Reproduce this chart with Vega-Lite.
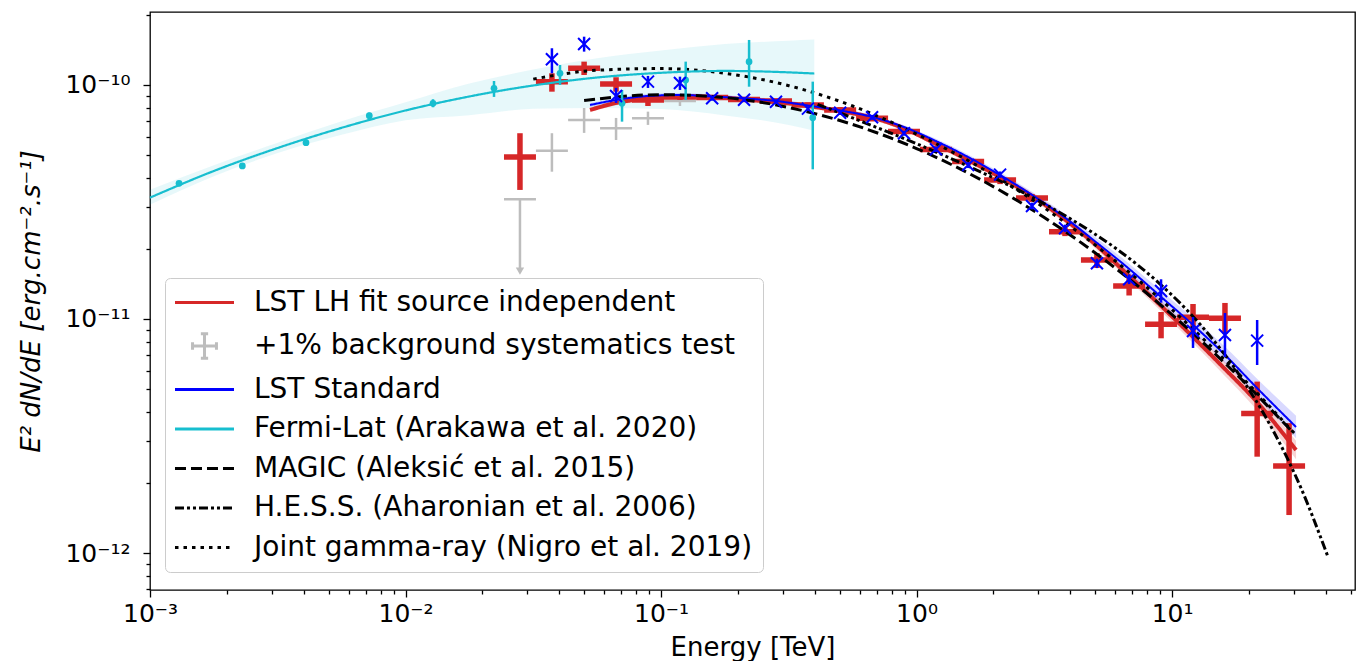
{
  "$schema": "https://vega.github.io/schema/vega-lite/v6.json",
  "width": 1205,
  "height": 578,
  "autosize": {"type": "none"},
  "padding": {"left": 150, "top": 12, "right": 8, "bottom": 71},
  "background": "white",
  "config": {
    "view": {"stroke": "black", "strokeWidth": 1.3},
    "font": "DejaVu Sans",
    "axis": {
      "labelFont": "DejaVu Sans", "labelFontSize": 25, "labelColor": "black",
      "titleFont": "DejaVu Sans", "titleFontSize": 26, "titleColor": "black", "titleFontWeight": "normal",
      "tickColor": "black", "tickWidth": 1.3, "domain": false, "grid": false,
      "labelOverlap": false, "labelFlush": false, "labelBound": false
    },
    "legend": {
      "labelFont": "DejaVu Sans", "labelFontSize": 28, "labelColor": "black", "labelLimit": 1000
    }
  },
  "datasets": {
    "fermiLine": [
      {"E": 0.001, "F": 3.30e-11, "Fup": 3.569e-11, "Flo": 3.080e-11, "series": "Fermi-Lat (Arakawa et al. 2020)"},
      {"E": 0.001778, "F": 4.29e-11, "Fup": 4.544e-11, "Flo": 4.078e-11, "series": "Fermi-Lat (Arakawa et al. 2020)"},
      {"E": 0.003162, "F": 5.38e-11, "Fup": 5.660e-11, "Flo": 5.114e-11, "series": "Fermi-Lat (Arakawa et al. 2020)"},
      {"E": 0.005623, "F": 6.56e-11, "Fup": 6.997e-11, "Flo": 6.122e-11, "series": "Fermi-Lat (Arakawa et al. 2020)"},
      {"E": 0.01, "F": 7.78e-11, "Fup": 8.433e-11, "Flo": 7.062e-11, "series": "Fermi-Lat (Arakawa et al. 2020)"},
      {"E": 0.01778, "F": 8.93e-11, "Fup": 1.0136e-10, "Flo": 7.427e-11, "series": "Fermi-Lat (Arakawa et al. 2020)"},
      {"E": 0.03162, "F": 9.95e-11, "Fup": 1.1637e-10, "Flo": 7.904e-11, "series": "Fermi-Lat (Arakawa et al. 2020)"},
      {"E": 0.05623, "F": 1.076e-10, "Fup": 1.2996e-10, "Flo": 7.976e-11, "series": "Fermi-Lat (Arakawa et al. 2020)"},
      {"E": 0.1, "F": 1.127e-10, "Fup": 1.4026e-10, "Flo": 7.887e-11, "series": "Fermi-Lat (Arakawa et al. 2020)"},
      {"E": 0.1778, "F": 1.148e-10, "Fup": 1.4961e-10, "Flo": 7.412e-11, "series": "Fermi-Lat (Arakawa et al. 2020)"},
      {"E": 0.3162, "F": 1.132e-10, "Fup": 1.5447e-10, "Flo": 6.743e-11, "series": "Fermi-Lat (Arakawa et al. 2020)"},
      {"E": 0.398, "F": 1.119e-10, "Fup": 1.5626e-10, "Flo": 6.366e-11, "series": "Fermi-Lat (Arakawa et al. 2020)"}
    ],
    "fermiPts": [
      {"E": 0.001299, "F": 3.80e-11, "Flo": 3.72e-11, "Fhi": 3.88e-11},
      {"E": 0.002298, "F": 4.51e-11, "Flo": 4.43e-11, "Fhi": 4.60e-11},
      {"E": 0.004079, "F": 5.67e-11, "Flo": 5.50e-11, "Fhi": 5.84e-11},
      {"E": 0.007215, "F": 7.39e-11, "Flo": 7.17e-11, "Fhi": 7.62e-11},
      {"E": 0.01281, "F": 8.35e-11, "Flo": 8.03e-11, "Fhi": 8.69e-11},
      {"E": 0.02220, "F": 9.68e-11, "Flo": 8.89e-11, "Fhi": 1.040e-10},
      {"E": 0.04024, "F": 1.122e-10, "Flo": 1.0e-10, "Fhi": 1.217e-10},
      {"E": 0.07037, "F": 8.35e-11, "Flo": 6.97e-11, "Fhi": 9.52e-11},
      {"E": 0.1249, "F": 1.050e-10, "Flo": 8.63e-11, "Fhi": 1.258e-10},
      {"E": 0.2211, "F": 1.258e-10, "Flo": 9.83e-11, "Fhi": 1.557e-10},
      {"E": 0.3925, "F": 7.25e-11, "Flo": 4.36e-11, "Fhi": 1.033e-10}
    ],
    "redLine": [
      {"E": 0.05274, "F": 7.82e-11, "Fup": 8.00e-11, "Flo": 7.64e-11, "series": "LST LH fit source independent"},
      {"E": 0.06668, "F": 8.38e-11, "Fup": 8.58e-11, "Flo": 8.19e-11, "series": "LST LH fit source independent"},
      {"E": 0.0889, "F": 8.76e-11, "Fup": 8.96e-11, "Flo": 8.56e-11, "series": "LST LH fit source independent"},
      {"E": 0.1186, "F": 8.93e-11, "Fup": 9.14e-11, "Flo": 8.73e-11, "series": "LST LH fit source independent"},
      {"E": 0.1585, "F": 8.89e-11, "Fup": 9.10e-11, "Flo": 8.69e-11, "series": "LST LH fit source independent"},
      {"E": 0.2113, "F": 8.67e-11, "Fup": 8.87e-11, "Flo": 8.47e-11, "series": "LST LH fit source independent"},
      {"E": 0.2818, "F": 8.46e-11, "Fup": 8.66e-11, "Flo": 8.27e-11, "series": "LST LH fit source independent"},
      {"E": 0.3758, "F": 8.13e-11, "Fup": 8.32e-11, "Flo": 7.94e-11, "series": "LST LH fit source independent"},
      {"E": 0.5023, "F": 7.74e-11, "Fup": 7.92e-11, "Flo": 7.56e-11, "series": "LST LH fit source independent"},
      {"E": 0.6699, "F": 7.26e-11, "Fup": 7.43e-11, "Flo": 7.09e-11, "series": "LST LH fit source independent"},
      {"E": 0.893, "F": 6.52e-11, "Fup": 6.67e-11, "Flo": 6.37e-11, "series": "LST LH fit source independent"},
      {"E": 1.191, "F": 5.60e-11, "Fup": 5.74e-11, "Flo": 5.46e-11, "series": "LST LH fit source independent"},
      {"E": 1.592, "F": 4.78e-11, "Fup": 4.91e-11, "Flo": 4.65e-11, "series": "LST LH fit source independent"},
      {"E": 2.123, "F": 4.04e-11, "Fup": 4.16e-11, "Flo": 3.92e-11, "series": "LST LH fit source independent"},
      {"E": 2.831, "F": 3.35e-11, "Fup": 3.46e-11, "Flo": 3.24e-11, "series": "LST LH fit source independent"},
      {"E": 3.778, "F": 2.68e-11, "Fup": 2.774e-11, "Flo": 2.589e-11, "series": "LST LH fit source independent"},
      {"E": 5.041, "F": 2.07e-11, "Fup": 2.153e-11, "Flo": 1.991e-11, "series": "LST LH fit source independent"},
      {"E": 6.727, "F": 1.542e-11, "Fup": 1.611e-11, "Flo": 1.476e-11, "series": "LST LH fit source independent"},
      {"E": 8.974, "F": 1.148e-11, "Fup": 1.208e-11, "Flo": 1.091e-11, "series": "LST LH fit source independent"},
      {"E": 11.97, "F": 8.46e-12, "Fup": 8.98e-12, "Flo": 7.97e-12, "series": "LST LH fit source independent"},
      {"E": 15.97, "F": 6.17e-12, "Fup": 6.61e-12, "Flo": 5.76e-12, "series": "LST LH fit source independent"},
      {"E": 21.32, "F": 4.46e-12, "Fup": 4.82e-12, "Flo": 4.12e-12, "series": "LST LH fit source independent"},
      {"E": 30.57, "F": 2.755e-12, "Fup": 3.021e-12, "Flo": 2.513e-12, "series": "LST LH fit source independent"}
    ],
    "blueLine": [
      {"E": 0.05274, "F": 8.21e-11, "Fup": 8.36e-11, "Flo": 8.06e-11, "series": "LST Standard"},
      {"E": 0.06668, "F": 8.63e-11, "Fup": 8.79e-11, "Flo": 8.47e-11, "series": "LST Standard"},
      {"E": 0.0889, "F": 8.97e-11, "Fup": 9.14e-11, "Flo": 8.81e-11, "series": "LST Standard"},
      {"E": 0.1186, "F": 9.06e-11, "Fup": 9.23e-11, "Flo": 8.89e-11, "series": "LST Standard"},
      {"E": 0.1585, "F": 8.93e-11, "Fup": 9.10e-11, "Flo": 8.77e-11, "series": "LST Standard"},
      {"E": 0.2113, "F": 8.76e-11, "Fup": 8.92e-11, "Flo": 8.60e-11, "series": "LST Standard"},
      {"E": 0.2818, "F": 8.54e-11, "Fup": 8.70e-11, "Flo": 8.38e-11, "series": "LST Standard"},
      {"E": 0.3758, "F": 8.17e-11, "Fup": 8.32e-11, "Flo": 8.02e-11, "series": "LST Standard"},
      {"E": 0.5023, "F": 7.78e-11, "Fup": 7.92e-11, "Flo": 7.64e-11, "series": "LST Standard"},
      {"E": 0.6699, "F": 7.30e-11, "Fup": 7.44e-11, "Flo": 7.17e-11, "series": "LST Standard"},
      {"E": 0.893, "F": 6.61e-11, "Fup": 6.73e-11, "Flo": 6.49e-11, "series": "LST Standard"},
      {"E": 1.191, "F": 5.76e-11, "Fup": 5.89e-11, "Flo": 5.63e-11, "series": "LST Standard"},
      {"E": 1.592, "F": 4.92e-11, "Fup": 5.05e-11, "Flo": 4.80e-11, "series": "LST Standard"},
      {"E": 2.123, "F": 4.12e-11, "Fup": 4.24e-11, "Flo": 4.01e-11, "series": "LST Standard"},
      {"E": 2.831, "F": 3.39e-11, "Fup": 3.50e-11, "Flo": 3.28e-11, "series": "LST Standard"},
      {"E": 3.778, "F": 2.73e-11, "Fup": 2.832e-11, "Flo": 2.631e-11, "series": "LST Standard"},
      {"E": 5.041, "F": 2.13e-11, "Fup": 2.225e-11, "Flo": 2.039e-11, "series": "LST Standard"},
      {"E": 6.727, "F": 1.652e-11, "Fup": 1.738e-11, "Flo": 1.570e-11, "series": "LST Standard"},
      {"E": 8.974, "F": 1.254e-11, "Fup": 1.331e-11, "Flo": 1.181e-11, "series": "LST Standard"},
      {"E": 11.97, "F": 9.52e-12, "Fup": 1.020e-11, "Flo": 8.88e-12, "series": "LST Standard"},
      {"E": 15.97, "F": 7.09e-12, "Fup": 7.68e-12, "Flo": 6.54e-12, "series": "LST Standard"},
      {"E": 21.32, "F": 5.12e-12, "Fup": 5.61e-12, "Flo": 4.67e-12, "series": "LST Standard"},
      {"E": 30.57, "F": 3.455e-12, "Fup": 3.859e-12, "Flo": 3.093e-12, "series": "LST Standard"}
    ],
    "magic": [
      {"E": 0.05, "F": 8.59e-11, "series": "MAGIC (Aleksić et al. 2015)"},
      {"E": 0.1, "F": 9.09e-11, "series": "MAGIC (Aleksić et al. 2015)"},
      {"E": 0.1778, "F": 8.83e-11, "series": "MAGIC (Aleksić et al. 2015)"},
      {"E": 0.3162, "F": 8.01e-11, "series": "MAGIC (Aleksić et al. 2015)"},
      {"E": 0.5623, "F": 6.78e-11, "series": "MAGIC (Aleksić et al. 2015)"},
      {"E": 1.0, "F": 5.35e-11, "series": "MAGIC (Aleksić et al. 2015)"},
      {"E": 1.778, "F": 3.945e-11, "series": "MAGIC (Aleksić et al. 2015)"},
      {"E": 3.162, "F": 2.714e-11, "series": "MAGIC (Aleksić et al. 2015)"},
      {"E": 5.623, "F": 1.742e-11, "series": "MAGIC (Aleksić et al. 2015)"},
      {"E": 10.0, "F": 1.043e-11, "series": "MAGIC (Aleksić et al. 2015)"},
      {"E": 17.78, "F": 5.83e-12, "series": "MAGIC (Aleksić et al. 2015)"},
      {"E": 30.0, "F": 3.24e-12, "series": "MAGIC (Aleksić et al. 2015)"}
    ],
    "hess": [
      {"E": 0.41, "F": 8.26e-11, "series": "H.E.S.S. (Aharonian et al. 2006)"},
      {"E": 0.6, "F": 7.03e-11, "series": "H.E.S.S. (Aharonian et al. 2006)"},
      {"E": 1.0, "F": 5.61e-11, "series": "H.E.S.S. (Aharonian et al. 2006)"},
      {"E": 1.5, "F": 4.63e-11, "series": "H.E.S.S. (Aharonian et al. 2006)"},
      {"E": 2.5, "F": 3.56e-11, "series": "H.E.S.S. (Aharonian et al. 2006)"},
      {"E": 4.0, "F": 2.68e-11, "series": "H.E.S.S. (Aharonian et al. 2006)"},
      {"E": 6.0, "F": 2.01e-11, "series": "H.E.S.S. (Aharonian et al. 2006)"},
      {"E": 9.0, "F": 1.406e-11, "series": "H.E.S.S. (Aharonian et al. 2006)"},
      {"E": 13.0, "F": 9.37e-12, "series": "H.E.S.S. (Aharonian et al. 2006)"},
      {"E": 18.0, "F": 5.94e-12, "series": "H.E.S.S. (Aharonian et al. 2006)"},
      {"E": 25.0, "F": 3.30e-12, "series": "H.E.S.S. (Aharonian et al. 2006)"},
      {"E": 32.0, "F": 1.89e-12, "series": "H.E.S.S. (Aharonian et al. 2006)"},
      {"E": 40.8, "F": 9.6e-13, "series": "H.E.S.S. (Aharonian et al. 2006)"}
    ],
    "joint": [
      {"E": 0.03162, "F": 1.059e-10, "series": "Joint gamma-ray (Nigro et al. 2019)"},
      {"E": 0.05623, "F": 1.156e-10, "series": "Joint gamma-ray (Nigro et al. 2019)"},
      {"E": 0.1, "F": 1.175e-10, "series": "Joint gamma-ray (Nigro et al. 2019)"},
      {"E": 0.1778, "F": 1.122e-10, "series": "Joint gamma-ray (Nigro et al. 2019)"},
      {"E": 0.3162, "F": 9.93e-11, "series": "Joint gamma-ray (Nigro et al. 2019)"},
      {"E": 0.5623, "F": 8.13e-11, "series": "Joint gamma-ray (Nigro et al. 2019)"},
      {"E": 1.0, "F": 6.17e-11, "series": "Joint gamma-ray (Nigro et al. 2019)"},
      {"E": 1.778, "F": 4.44e-11, "series": "Joint gamma-ray (Nigro et al. 2019)"},
      {"E": 3.162, "F": 2.985e-11, "series": "Joint gamma-ray (Nigro et al. 2019)"},
      {"E": 5.623, "F": 1.873e-11, "series": "Joint gamma-ray (Nigro et al. 2019)"},
      {"E": 10.0, "F": 1.096e-11, "series": "Joint gamma-ray (Nigro et al. 2019)"},
      {"E": 17.78, "F": 5.99e-12, "series": "Joint gamma-ray (Nigro et al. 2019)"},
      {"E": 30.0, "F": 3.26e-12, "series": "Joint gamma-ray (Nigro et al. 2019)"}
    ],
    "redPts": [
      {"E": 0.02805, "Elo": 0.02429, "Ehi": 0.03240, "F": 4.92e-11, "Flo": 3.56e-11, "Fhi": 6.22e-11},
      {"E": 0.03741, "Elo": 0.03239, "Ehi": 0.04321, "F": 1.033e-10, "Flo": 9.36e-11, "Fhi": 1.122e-10},
      {"E": 0.0500, "Elo": 0.04329, "Ehi": 0.05775, "F": 1.179e-10, "Flo": 1.103e-10, "Fhi": 1.258e-10},
      {"E": 0.06668, "Elo": 0.05773, "Ehi": 0.07702, "F": 1.010e-10, "Flo": 9.36e-11, "Fhi": 1.079e-10},
      {"E": 0.0889, "Elo": 0.07697, "Ehi": 0.1027, "F": 8.63e-11, "Flo": 8.13e-11, "Fhi": 9.06e-11},
      {"E": 0.1186, "Elo": 0.1027, "Ehi": 0.1370, "F": 8.89e-11, "Flo": 8.63e-11, "Fhi": 9.15e-11},
      {"E": 0.1585, "Elo": 0.1372, "Ehi": 0.1831, "F": 8.84e-11, "Flo": 8.63e-11, "Fhi": 9.06e-11},
      {"E": 0.2113, "Elo": 0.1829, "Ehi": 0.2441, "F": 8.67e-11, "Flo": 8.46e-11, "Fhi": 8.89e-11},
      {"E": 0.2818, "Elo": 0.2440, "Ehi": 0.3255, "F": 8.54e-11, "Flo": 8.34e-11, "Fhi": 8.76e-11},
      {"E": 0.3758, "Elo": 0.3254, "Ehi": 0.4340, "F": 8.21e-11, "Flo": 8.01e-11, "Fhi": 8.42e-11},
      {"E": 0.5023, "Elo": 0.4349, "Ehi": 0.5802, "F": 7.82e-11, "Flo": 7.59e-11, "Fhi": 8.05e-11},
      {"E": 0.6699, "Elo": 0.5800, "Ehi": 0.7737, "F": 7.21e-11, "Flo": 6.98e-11, "Fhi": 7.44e-11},
      {"E": 0.893, "Elo": 0.7732, "Ehi": 1.0314, "F": 6.32e-11, "Flo": 6.11e-11, "Fhi": 6.55e-11},
      {"E": 1.191, "Elo": 1.0312, "Ehi": 1.3756, "F": 5.30e-11, "Flo": 5.12e-11, "Fhi": 5.48e-11},
      {"E": 1.592, "Elo": 1.3784, "Ehi": 1.8388, "F": 4.71e-11, "Flo": 4.55e-11, "Fhi": 4.88e-11},
      {"E": 2.123, "Elo": 1.8381, "Ehi": 2.4521, "F": 3.93e-11, "Flo": 3.77e-11, "Fhi": 4.08e-11},
      {"E": 2.831, "Elo": 2.4511, "Ehi": 3.2698, "F": 3.29e-11, "Flo": 3.16e-11, "Fhi": 3.42e-11},
      {"E": 3.811, "Elo": 3.2996, "Ehi": 4.4017, "F": 2.36e-11, "Flo": 2.26e-11, "Fhi": 2.47e-11},
      {"E": 5.082, "Elo": 4.4000, "Ehi": 5.8697, "F": 1.787e-11, "Flo": 1.652e-11, "Fhi": 1.914e-11},
      {"E": 6.792, "Elo": 5.8805, "Ehi": 7.8448, "F": 1.384e-11, "Flo": 1.26e-11, "Fhi": 1.512e-11},
      {"E": 9.057, "Elo": 7.8416, "Ehi": 10.461, "F": 9.49e-12, "Flo": 8.27e-12, "Fhi": 1.071e-11},
      {"E": 12.08, "Elo": 10.459, "Ehi": 13.952, "F": 1.017e-11, "Flo": 8.71e-12, "Fhi": 1.159e-11},
      {"E": 16.11, "Elo": 13.948, "Ehi": 18.607, "F": 1.007e-11, "Flo": 8.63e-12, "Fhi": 1.171e-11},
      {"E": 21.53, "Elo": 18.641, "Ehi": 24.867, "F": 3.95e-12, "Flo": 2.58e-12, "Fhi": 5.40e-12},
      {"E": 28.71, "Elo": 24.857, "Ehi": 33.160, "F": 2.353e-12, "Flo": 1.453e-12, "Fhi": 3.59e-12}
    ],
    "grayPts": [
      {"E": 0.03741, "Elo": 0.03239, "Ehi": 0.04321, "F": 5.24e-11, "Flo": 4.26e-11, "Fhi": 6.22e-11},
      {"E": 0.0500, "Elo": 0.04329, "Ehi": 0.05775, "F": 7.09e-11, "Flo": 6.24e-11, "Fhi": 7.97e-11},
      {"E": 0.06668, "Elo": 0.05773, "Ehi": 0.07702, "F": 6.53e-11, "Flo": 5.82e-11, "Fhi": 7.23e-11},
      {"E": 0.0889, "Elo": 0.07697, "Ehi": 0.1027, "F": 7.21e-11, "Flo": 6.75e-11, "Fhi": 7.69e-11},
      {"E": 0.1186, "Elo": 0.1027, "Ehi": 0.1370, "F": 8.54e-11, "Flo": 8.13e-11, "Fhi": 8.97e-11}
    ],
    "grayUL": [
      {"E": 0.02805, "Elo": 0.02429, "Ehi": 0.03240, "F": 3.25e-11, "Fend": 1.60e-11}
    ],
    "bluePts": [
      {"E": 0.03741, "F": 1.288e-10, "Flo": 1.122e-10, "Fhi": 1.435e-10},
      {"E": 0.0500, "F": 1.497e-10, "Flo": 1.388e-10, "Fhi": 1.608e-10},
      {"E": 0.06668, "F": 8.97e-11, "Flo": 8.38e-11, "Fhi": 9.71e-11},
      {"E": 0.0889, "F": 1.033e-10, "Flo": 9.71e-11, "Fhi": 1.093e-10},
      {"E": 0.1186, "F": 1.020e-10, "Flo": 9.52e-11, "Fhi": 1.085e-10},
      {"E": 0.1585, "F": 8.77e-11, "Flo": 8.57e-11, "Fhi": 9.0e-11},
      {"E": 0.2113, "F": 8.65e-11, "Flo": 8.46e-11, "Fhi": 8.85e-11},
      {"E": 0.2818, "F": 8.48e-11, "Flo": 8.30e-11, "Fhi": 8.68e-11},
      {"E": 0.3758, "F": 7.92e-11, "Flo": 7.75e-11, "Fhi": 8.1e-11},
      {"E": 0.5023, "F": 7.61e-11, "Flo": 7.45e-11, "Fhi": 7.8e-11},
      {"E": 0.6699, "F": 7.28e-11, "Flo": 7.1e-11, "Fhi": 7.45e-11},
      {"E": 0.893, "F": 6.22e-11, "Flo": 6.07e-11, "Fhi": 6.37e-11},
      {"E": 1.191, "F": 5.31e-11, "Flo": 5.17e-11, "Fhi": 5.45e-11},
      {"E": 1.592, "F": 4.55e-11, "Flo": 4.42e-11, "Fhi": 4.68e-11},
      {"E": 2.123, "F": 4.14e-11, "Flo": 4.01e-11, "Fhi": 4.27e-11},
      {"E": 2.831, "F": 3.04e-11, "Flo": 2.94e-11, "Fhi": 3.14e-11},
      {"E": 3.811, "F": 2.44e-11, "Flo": 2.35e-11, "Fhi": 2.53e-11},
      {"E": 5.082, "F": 1.73e-11, "Flo": 1.65e-11, "Fhi": 1.81e-11},
      {"E": 6.792, "F": 1.478e-11, "Flo": 1.41e-11, "Fhi": 1.55e-11},
      {"E": 9.057, "F": 1.317e-11, "Flo": 1.174e-11, "Fhi": 1.478e-11},
      {"E": 12.08, "F": 8.89e-12, "Flo": 7.52e-12, "Fhi": 1.020e-11},
      {"E": 16.11, "F": 8.54e-12, "Flo": 6.88e-12, "Fhi": 1.061e-11},
      {"E": 21.53, "F": 8.08e-12, "Flo": 6.36e-12, "Fhi": 9.90e-12}
    ]
  },
  "encoding": {
    "x": {
      "field": "E", "type": "quantitative",
      "scale": {"type": "log", "domain": [0.001, 52], "nice": false},
      "axis": {
        "title": "Energy [TeV]",
        "values": [0.001, 0.002, 0.003, 0.004, 0.005, 0.006, 0.007, 0.008, 0.009, 0.01, 0.02, 0.03, 0.04, 0.05, 0.06, 0.07, 0.08, 0.09, 0.1, 0.2, 0.3, 0.4, 0.5, 0.6, 0.7, 0.8, 0.9, 1, 2, 3, 4, 5, 6, 7, 8, 9, 10, 20, 30, 40, 50],
        "labelExpr": "abs(log(datum.value)/LN10 - round(log(datum.value)/LN10)) < 0.001 ? ['10⁻³','10⁻²','10⁻¹','10⁰','10¹'][round(log(datum.value)/LN10)+3] : ''",
        "tickSize": {"condition": {"test": "abs(log(datum.value)/LN10 - round(log(datum.value)/LN10)) < 0.001", "value": 7}, "value": 4},
        "labelPadding": 4,
        "titlePadding": 8
      }
    },
    "y": {
      "field": "F", "type": "quantitative",
      "scale": {"type": "log", "domain": [6.95e-13, 2.05e-10], "nice": false},
      "axis": {
        "title": "E² dN/dE [erg.cm⁻².s⁻¹]",
        "titleFontStyle": "italic",
        "values": [7e-13, 8e-13, 9e-13, 1e-12, 2e-12, 3e-12, 4e-12, 5e-12, 6e-12, 7e-12, 8e-12, 9e-12, 1e-11, 2e-11, 3e-11, 4e-11, 5e-11, 6e-11, 7e-11, 8e-11, 9e-11, 1e-10, 2e-10],
        "labelExpr": "abs(log(datum.value)/LN10 - round(log(datum.value)/LN10)) < 0.001 ? ['10⁻¹²','10⁻¹¹','10⁻¹⁰'][round(log(datum.value)/LN10)+12] : ''",
        "tickSize": {"condition": {"test": "abs(log(datum.value)/LN10 - round(log(datum.value)/LN10)) < 0.001", "value": 7}, "value": 4},
        "labelPadding": 13,
        "titlePadding": 20
      }
    }
  },
  "layer": [
    {
      "data": {"name": "fermiLine"},
      "mark": {"type": "area", "color": "#17becf", "opacity": 0.1, "interpolate": "monotone"},
      "encoding": {"y": {"field": "Fup", "type": "quantitative", "scale": {"type": "log", "domain": [6.95e-13, 2.05e-10], "nice": false}}, "y2": {"field": "Flo"}}
    },
    {
      "data": {"name": "redLine"},
      "mark": {"type": "area", "color": "#d62728", "opacity": 0.2, "interpolate": "monotone"},
      "encoding": {"y": {"field": "Fup", "type": "quantitative", "scale": {"type": "log", "domain": [6.95e-13, 2.05e-10], "nice": false}}, "y2": {"field": "Flo"}}
    },
    {
      "data": {"name": "blueLine"},
      "mark": {"type": "area", "color": "#0000ff", "opacity": 0.15, "interpolate": "monotone"},
      "encoding": {"y": {"field": "Fup", "type": "quantitative", "scale": {"type": "log", "domain": [6.95e-13, 2.05e-10], "nice": false}}, "y2": {"field": "Flo"}}
    },
    {
      "data": {"name": "grayPts"},
      "mark": {"type": "rule", "color": "#bdbdbd", "strokeWidth": 2.5},
      "encoding": {"x": {"field": "Elo", "type": "quantitative", "scale": {"type": "log", "domain": [0.001, 52], "nice": false}}, "x2": {"field": "Ehi"}}
    },
    {
      "data": {"name": "grayPts"},
      "mark": {"type": "rule", "color": "#bdbdbd", "strokeWidth": 2.5},
      "encoding": {"y": {"field": "Flo", "type": "quantitative", "scale": {"type": "log", "domain": [6.95e-13, 2.05e-10], "nice": false}}, "y2": {"field": "Fhi"}}
    },
    {
      "data": {"name": "grayUL"},
      "mark": {"type": "rule", "color": "#bdbdbd", "strokeWidth": 2.5},
      "encoding": {"x": {"field": "Elo", "type": "quantitative", "scale": {"type": "log", "domain": [0.001, 52], "nice": false}}, "x2": {"field": "Ehi"}}
    },
    {
      "data": {"name": "grayUL"},
      "mark": {"type": "rule", "color": "#bdbdbd", "strokeWidth": 2.5},
      "encoding": {"y2": {"field": "Fend"}}
    },
    {
      "data": {"name": "grayUL"},
      "mark": {"type": "point", "shape": "triangle-down", "filled": true, "color": "#bdbdbd", "opacity": 1, "size": 70},
      "encoding": {"y": {"field": "Fend", "type": "quantitative", "scale": {"type": "log", "domain": [6.95e-13, 2.05e-10], "nice": false}}}
    },
    {
      "data": {"name": "redPts"},
      "mark": {"type": "rule", "color": "#d62728", "strokeWidth": 5.5},
      "encoding": {"x": {"field": "Elo", "type": "quantitative", "scale": {"type": "log", "domain": [0.001, 52], "nice": false}}, "x2": {"field": "Ehi"}}
    },
    {
      "data": {"name": "redPts"},
      "mark": {"type": "rule", "color": "#d62728", "strokeWidth": 5.5},
      "encoding": {"y": {"field": "Flo", "type": "quantitative", "scale": {"type": "log", "domain": [6.95e-13, 2.05e-10], "nice": false}}, "y2": {"field": "Fhi"}}
    },
    {
      "data": {"name": "redLine"},
      "mark": {"type": "line", "strokeWidth": 4, "interpolate": "monotone"},
      "encoding": {
        "color": {"field": "series", "type": "nominal",
          "scale": {"domain": ["LST LH fit source independent", "+1% background systematics test", "LST Standard", "Fermi-Lat (Arakawa et al. 2020)", "MAGIC (Aleksić et al. 2015)", "H.E.S.S. (Aharonian et al. 2006)", "Joint gamma-ray (Nigro et al. 2019)"],
                    "range": ["#d62728", "#bdbdbd", "#0000ff", "#17becf", "#000000", "#000000", "#000000"]},
          "legend": {
            "orient": "none", "legendX": 15, "legendY": 266, "title": null,
            "symbolType": "stroke", "symbolSize": 676, "symbolStrokeWidth": 3, "symbolOffset": 15,
            "labelOffset": 35, "rowPadding": 10.5, "padding": 10,
            "strokeColor": "#cccccc", "fillColor": "white", "cornerRadius": 5,
            "encode": {"symbols": {"update": {"shape": {"signal": "datum.value === '+1% background systematics test' ? 'M-0.92,0H0.92M0,-0.95V0.95M-0.92,-0.28V0.28M0.92,-0.28V0.28M-0.28,-0.95H0.28M-0.28,0.95H0.28' : 'M-2.27,0H2.27'"}}}}
          }
        },
        "strokeDash": {"field": "series", "type": "nominal",
          "scale": {"domain": ["LST LH fit source independent", "+1% background systematics test", "LST Standard", "Fermi-Lat (Arakawa et al. 2020)", "MAGIC (Aleksić et al. 2015)", "H.E.S.S. (Aharonian et al. 2006)", "Joint gamma-ray (Nigro et al. 2019)"],
                    "range": [[1, 0], [1, 0], [1, 0], [1, 0], [11, 5], [9, 3, 3, 3, 3, 3], [3.5, 5]]},
          "legend": {
            "orient": "none", "legendX": 15, "legendY": 266, "title": null,
            "symbolType": "stroke", "symbolSize": 676, "symbolStrokeWidth": 3, "symbolOffset": 15,
            "labelOffset": 35, "rowPadding": 10.5, "padding": 10,
            "strokeColor": "#cccccc", "fillColor": "white", "cornerRadius": 5,
            "encode": {"symbols": {"update": {"shape": {"signal": "datum.value === '+1% background systematics test' ? 'M-0.92,0H0.92M0,-0.95V0.95M-0.92,-0.28V0.28M0.92,-0.28V0.28M-0.28,-0.95H0.28M-0.28,0.95H0.28' : 'M-2.27,0H2.27'"}}}}
          }
        }
      }
    },
    {
      "data": {"name": "blueLine"},
      "mark": {"type": "line", "strokeWidth": 2, "interpolate": "monotone"},
      "encoding": {
        "color": {"field": "series", "type": "nominal"},
        "strokeDash": {"field": "series", "type": "nominal"}
      }
    },
    {
      "data": {"name": "magic"},
      "mark": {"type": "line", "strokeWidth": 3, "interpolate": "monotone"},
      "encoding": {
        "color": {"field": "series", "type": "nominal"},
        "strokeDash": {"field": "series", "type": "nominal"}
      }
    },
    {
      "data": {"name": "hess"},
      "mark": {"type": "line", "strokeWidth": 3, "interpolate": "monotone"},
      "encoding": {
        "color": {"field": "series", "type": "nominal"},
        "strokeDash": {"field": "series", "type": "nominal"}
      }
    },
    {
      "data": {"name": "joint"},
      "mark": {"type": "line", "strokeWidth": 3, "interpolate": "monotone"},
      "encoding": {
        "color": {"field": "series", "type": "nominal"},
        "strokeDash": {"field": "series", "type": "nominal"}
      }
    },
    {
      "data": {"name": "fermiLine"},
      "mark": {"type": "line", "strokeWidth": 2.2, "interpolate": "monotone"},
      "encoding": {
        "color": {"field": "series", "type": "nominal"},
        "strokeDash": {"field": "series", "type": "nominal"}
      }
    },
    {
      "data": {"name": "fermiPts"},
      "mark": {"type": "rule", "color": "#17becf", "strokeWidth": 2.5},
      "encoding": {"y": {"field": "Flo", "type": "quantitative", "scale": {"type": "log", "domain": [6.95e-13, 2.05e-10], "nice": false}}, "y2": {"field": "Fhi"}}
    },
    {
      "data": {"name": "fermiPts"},
      "mark": {"type": "point", "shape": "circle", "filled": true, "color": "#17becf", "opacity": 1, "size": 45}
    },
    {
      "data": {"name": "bluePts"},
      "mark": {"type": "rule", "color": "#0000ff", "strokeWidth": 2.5},
      "encoding": {"y": {"field": "Flo", "type": "quantitative", "scale": {"type": "log", "domain": [6.95e-13, 2.05e-10], "nice": false}}, "y2": {"field": "Fhi"}}
    },
    {
      "data": {"name": "bluePts"},
      "mark": {"type": "point", "shape": "M-1,-1L1,1M-1,1L1,-1", "filled": false, "color": "#0000ff", "strokeWidth": 2, "opacity": 1, "size": 144}
    }
  ]
}
